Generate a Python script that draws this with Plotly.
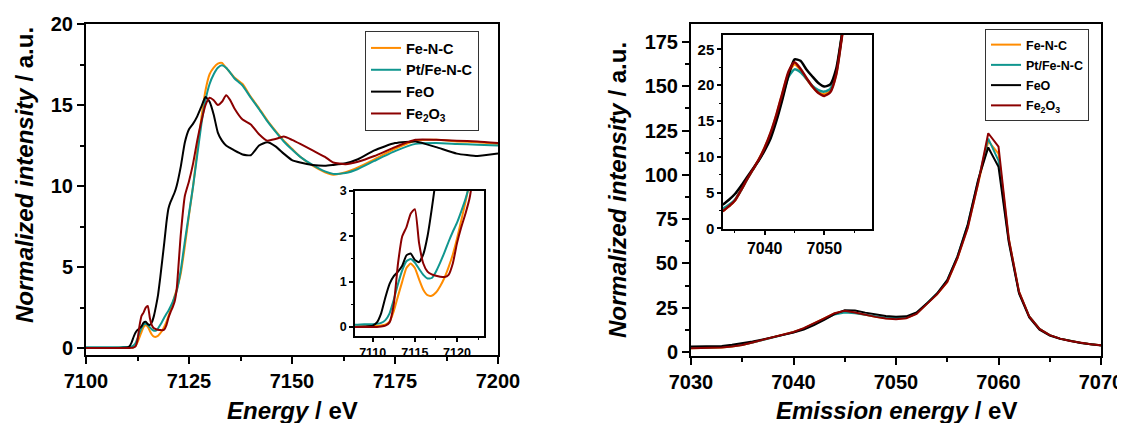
import plotly.graph_objects as go

# ---------------- data: Fe K-edge XANES (left) ----------------
E_XANES = [7100, 7105, 7108, 7109, 7110, 7110.5, 7111, 7111.5, 7112, 7112.5, 7113, 7113.5,
           7114, 7114.5, 7115, 7115.5, 7116, 7116.5, 7117, 7117.5, 7118, 7118.5, 7119, 7119.5,
           7120, 7120.5, 7121, 7121.5, 7122, 7123, 7124, 7125, 7126, 7127, 7128, 7129, 7130,
           7131, 7132, 7133, 7134, 7135, 7136, 7138, 7140, 7142, 7144, 7146, 7148, 7150, 7152,
           7155, 7158, 7160, 7163, 7166, 7170, 7175, 7180, 7185, 7190, 7195, 7200]

XANES_FeNC = [0.0, 0.0, 0.01, 0.01, 0.02, 0.02, 0.03, 0.05, 0.12, 0.35, 0.68, 1.0,
              1.3, 1.40, 1.30, 1.05, 0.82, 0.70, 0.69, 0.76, 0.90, 1.08, 1.32, 1.6,
              1.95, 2.35, 2.75, 3.2, 3.6, 4.6, 6.3, 8.2, 10.0, 12.2, 14.2, 15.9, 16.9,
              17.3, 17.55, 17.6, 17.3, 17.0, 16.7, 16.3, 15.5, 14.8, 14.05, 13.4, 12.8, 12.3, 11.8,
              11.25, 10.85, 10.7, 10.85, 11.15, 11.65, 12.3, 12.8, 12.85, 12.75, 12.7, 12.6]

XANES_PtFeNC = [0.05, 0.05, 0.05, 0.06, 0.06, 0.07, 0.09, 0.15, 0.3, 0.6, 0.95, 1.25,
                1.45, 1.50, 1.42, 1.28, 1.15, 1.07, 1.08, 1.22, 1.42, 1.64, 1.88, 2.1,
                2.3, 2.55, 2.82, 3.15, 3.5, 4.8, 6.6, 8.3, 10.0, 11.9, 13.8, 15.3, 16.3,
                16.9, 17.3, 17.45, 17.3, 17.0, 16.65, 16.2, 15.45, 14.75, 14.0, 13.35, 12.75, 12.25, 11.8,
                11.3, 10.9, 10.75, 10.8, 11.05, 11.55, 12.15, 12.6, 12.65, 12.6, 12.55, 12.5]

XANES_FeO = [0.0, 0.0, 0.0, 0.01, 0.03, 0.1, 0.3, 0.65, 0.95, 1.12, 1.22, 1.35,
             1.58, 1.62, 1.48, 1.43, 1.6, 2.0, 2.6, 3.3, 4.3, 5.4, 6.5, 7.7,
             8.6, 9.0, 9.3, 9.6, 10.0, 11.2, 12.7, 13.5, 13.85, 14.3, 14.9, 15.5, 15.2,
             14.4, 13.3, 12.8, 12.5, 12.35, 12.2, 11.95, 11.9, 12.5, 12.7, 12.45, 12.0, 11.6, 11.45,
             11.3, 11.25, 11.3, 11.4, 11.65, 12.2, 12.65, 12.75, 12.4, 12.0, 11.85, 12.0]

XANES_Fe2O3 = [0.0, 0.0, 0.0, 0.0, 0.0, 0.0, 0.01, 0.03, 0.1, 0.5, 1.4, 2.0,
               2.2, 2.5, 2.6, 1.85, 1.4, 1.22, 1.16, 1.13, 1.11, 1.1, 1.15, 1.4,
               1.85, 2.2, 2.5, 2.85, 3.6, 7.0, 9.4, 10.3, 11.4, 12.8, 14.0, 15.0, 15.45,
               15.3, 15.0, 15.2, 15.6, 15.3, 14.8, 14.1, 13.8, 13.2, 12.8, 12.9, 13.05, 12.85, 12.6,
               12.2, 11.8, 11.45, 11.35, 11.5, 11.85, 12.4, 12.85, 12.85, 12.8, 12.75, 12.65]

# ---------------- data: Kbeta emission (right) ----------------
E_XES = [7030, 7031, 7032, 7033, 7034, 7035, 7036, 7037, 7038, 7039, 7040, 7041, 7042, 7043,
         7044, 7045, 7046, 7047, 7048, 7049, 7050, 7051, 7052, 7053, 7054, 7055, 7056, 7057,
         7058, 7059, 7060, 7061, 7062, 7063, 7064, 7065, 7066, 7067, 7068, 7069, 7070]

XES_FeNC = [2.1, 2.2, 2.3, 2.45, 3.1, 3.9, 5.3, 6.8, 8.2, 9.6, 11.3, 13.3, 15.9, 18.9,
            21.7, 22.9, 22.1, 20.9, 19.8, 19.0, 18.75, 19.2, 21.6, 27.2, 32.5, 39.5, 53, 70.5,
            95.5, 119, 112, 64, 34, 20, 13, 9.5, 7.5, 6.2, 5.2, 4.4, 3.7]

XES_PtFeNC = [2.4, 2.5, 2.6, 2.8, 3.3, 4.0, 5.3, 6.8, 8.2, 9.5, 11.1, 13.1, 15.6, 18.5,
              21.2, 22.2, 21.8, 20.9, 19.9, 19.3, 19.1, 19.5, 21.8, 27.3, 33, 40.5, 54, 72,
              97, 120.5, 108, 63, 33.5, 20, 13, 9.5, 7.5, 6.2, 5.2, 4.4, 3.7]

XES_FeO = [3.0, 3.05, 3.15, 3.35, 4.0, 4.8, 5.9, 7.1, 8.3, 9.5, 10.9, 12.6, 15.1, 18.1,
           21.4, 23.6, 23.4, 22.2, 21.2, 20.3, 19.8, 20.1, 22.3, 27.3, 33, 40.5, 54, 72,
           97, 115.5, 104.5, 62, 33, 19.5, 12.6, 9.3, 7.4, 6.1, 5.1, 4.3, 3.6]

XES_Fe2O3 = [2.1, 2.2, 2.3, 2.45, 3.1, 3.9, 5.3, 6.8, 8.2, 9.6, 11.3, 13.4, 16.0, 19.0,
             21.9, 23.2, 22.3, 21.0, 19.8, 18.9, 18.5, 19.0, 21.5, 27.0, 32.5, 39.5, 53, 70,
             95, 123.5, 116, 64, 34, 20, 13, 9.5, 7.5, 6.2, 5.2, 4.4, 3.7]

NAMES = ["Fe-N-C", "Pt/Fe-N-C", "FeO", "Fe<sub>2</sub>O<sub>3</sub>"]
COLORS = ["#FF8C00", "#10968F", "#000000", "#8B0000"]

XANES = [XANES_FeNC, XANES_PtFeNC, XANES_FeO, XANES_Fe2O3]
XES = [XES_FeNC, XES_PtFeNC, XES_FeO, XES_Fe2O3]

FONT = "Liberation Sans"

fig = go.Figure()

for i in range(4):
    fig.add_trace(go.Scatter(x=E_XANES, y=XANES[i], mode="lines", name=NAMES[i],
                             line=dict(color=COLORS[i], width=2, shape="spline", smoothing=0.5),
                             xaxis="x", yaxis="y", legend="legend"))
    fig.add_trace(go.Scatter(x=E_XANES, y=XANES[i], mode="lines", name=NAMES[i], showlegend=False,
                             line=dict(color=COLORS[i], width=2, shape="spline", smoothing=0.5),
                             xaxis="x2", yaxis="y2"))
    fig.add_trace(go.Scatter(x=E_XES, y=XES[i], mode="lines", name=NAMES[i],
                             line=dict(color=COLORS[i], width=2),
                             xaxis="x3", yaxis="y3", legend="legend2", legendgroup="b%d" % i))
    fig.add_trace(go.Scatter(x=E_XES, y=XES[i], mode="lines", name=NAMES[i], showlegend=False,
                             line=dict(color=COLORS[i], width=2.5, shape="spline", smoothing=0.6),
                             xaxis="x4", yaxis="y4"))


def axis(size, ticklen, minor_dtick, dtick, rng, domain, anchor, lw=2, tick0=None):
    d = dict(range=rng, domain=domain, anchor=anchor, dtick=dtick, automargin=False,
             showline=True, linecolor="black", linewidth=lw, mirror=True,
             ticks="outside", ticklen=ticklen, tickwidth=lw, tickcolor="black",
             showgrid=False, zeroline=False,
             tickfont=dict(family=FONT, size=size, color="black", weight=700),
             minor=dict(dtick=minor_dtick, ticks="outside", ticklen=ticklen * 0.55,
                        tickwidth=max(1, lw - 0.5), tickcolor="black", showgrid=False))
    if tick0 is not None:
        d["tick0"] = tick0
        d["minor"]["tick0"] = tick0
    return d

# the page puts the plot 8 px from the top-left corner of the window
OFF = 8
W, H = 1125 - OFF, 423 - OFF
def px(x0, x1):
    return [(x0 - OFF) / W, (x1 - OFF) / W]
def py(top, bottom):
    return [1 - (bottom - OFF) / H, 1 - (top - OFF) / H]
def fx(x):
    return (x - OFF) / W
def fy(y):
    return 1 - (y - OFF) / H

fig.update_layout(
    template="none",
    width=W, height=H, autosize=False,
    margin=dict(l=0, r=0, t=0, b=0, pad=0, autoexpand=False),
    paper_bgcolor="white", plot_bgcolor="rgba(0,0,0,0)",
    font=dict(family=FONT, color="black", weight=700),
    xaxis=axis(20, 7, 12.5, 25, [7100, 7200], px(86, 498), "y", tick0=7100),
    yaxis=axis(20, 7, 2.5, 5, [-0.43, 20], py(24, 355), "x"),
    xaxis2=axis(12.5, 4, 2.5, 5, [7107.9, 7123.2], px(355, 484), "y2", lw=1.5),
    yaxis2=axis(12.5, 4, 0.5, 1, [-0.2, 3.0], py(191, 336), "x2", lw=1.5),
    xaxis3=axis(20, 7, 5, 10, [7030, 7070], px(691, 1101), "y3"),
    yaxis3=axis(20, 7, 12.5, 25, [-2.3, 185.2], py(24, 356), "x3"),
    xaxis4=axis(16, 4, 5, 10, [7033.0, 7058.0], px(723, 872), "y4", lw=1.5),
    yaxis4=axis(15, 4, 2.5, 5, [-0.08, 27.0], py(35, 229), "x4", lw=1.5),
    legend=dict(x=fx(365), y=fy(31), xanchor="left", yanchor="top",
                bgcolor="white", bordercolor="#333", borderwidth=1,
                font=dict(family=FONT, size=14.5, color="black", weight=700),
                traceorder="normal"),
    legend2=dict(x=fx(985), y=fy(29), xanchor="left", yanchor="top",
                 bgcolor="white", bordercolor="#333", borderwidth=1,
                 font=dict(family=FONT, size=12.5, color="black", weight=700),
                 traceorder="grouped", tracegroupgap=1),
    showlegend=True,
)

title_font = dict(family=FONT, size=24, color="black", weight=700)
fig.add_annotation(text="<i>Energy</i> / eV", x=fx(292), y=fy(410), xref="paper", yref="paper",
                   xanchor="center", yanchor="middle", showarrow=False, font=title_font)
fig.add_annotation(text="<i>Emission energy</i> / eV", x=fx(896), y=fy(410), xref="paper", yref="paper",
                   xanchor="center", yanchor="middle", showarrow=False, font=title_font)
fig.add_annotation(text="<i>Normalized intensity</i> / a.u.", x=fx(24), y=fy(175),
                   xref="paper", yref="paper", xanchor="center", yanchor="middle",
                   textangle=-90, showarrow=False, font=title_font)
fig.add_annotation(text="<i>Normalized intensity</i> / a.u.", x=fx(617), y=fy(190),
                   xref="paper", yref="paper", xanchor="center", yanchor="middle",
                   textangle=-90, showarrow=False, font=title_font)

fig.write_html("out.html")
